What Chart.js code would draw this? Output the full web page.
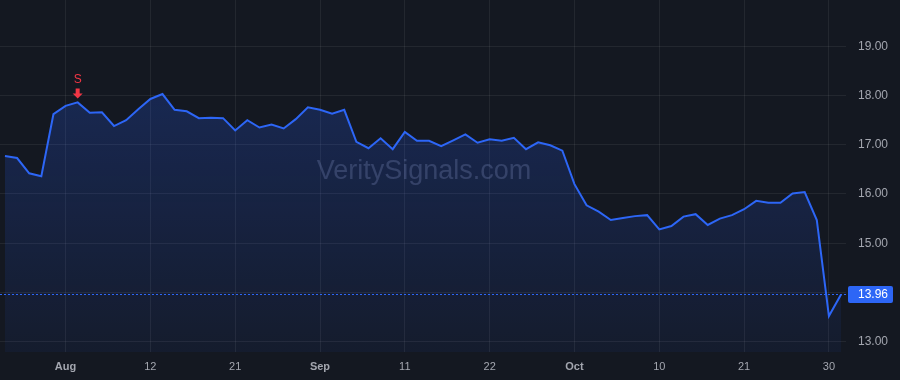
<!DOCTYPE html>
<html>
<head>
<meta charset="utf-8">
<script src="https://cdn.jsdelivr.net/npm/chart.js@4.4.1/dist/chart.umd.min.js"></script>
<style>
  html, body { margin: 0; padding: 0; background: #141821; }
  #wrap { width: 900px; height: 380px; }
</style>
</head>
<body>
<div id="wrap"><canvas id="priceChart" width="900" height="380"></canvas></div>
<script>
"use strict";

// ---------------- DATA ----------------
const closes = [
  16.77, 16.73, 16.42, 16.36, 17.62, 17.79, 17.86, 17.65, 17.66, 17.38,
  17.50, 17.72, 17.93, 18.03, 17.71, 17.68, 17.54, 17.55, 17.54, 17.29,
  17.50, 17.35, 17.41, 17.33, 17.52, 17.76, 17.71, 17.63, 17.71, 17.06,
  16.93, 17.13, 16.91, 17.26, 17.08, 17.08, 16.97, 17.09, 17.21, 17.04,
  17.11, 17.08, 17.14, 16.91, 17.05, 16.99, 16.88, 16.20, 15.77, 15.64,
  15.47, 15.51, 15.55, 15.57, 15.28, 15.35, 15.54, 15.59, 15.37, 15.50,
  15.57, 15.69, 15.86, 15.82, 15.82, 16.01, 16.04, 15.47, 13.52, 13.96,
];
const xTickIdx = [5, 12, 19, 26, 33, 40, 47, 54, 61, 68];
const xTickLabels = ["Aug", "12", "21", "Sep", "11", "22", "Oct", "10", "21", "30"];
const monthLabels = ["Aug", "Sep", "Oct"];
const yTicks = [13, 14, 15, 16, 17, 18, 19];
const hiddenYTick = 14; // covered by the last-price tag
const signalIdx = 6;
const signalText = "S";
const watermark = "VeritySignals.com";

// ---------------- STYLE ----------------
const BLUE = "#2d66f6";
const RED = "#f23645";
const TEXT = "#a3a6af";
const GRID = "rgba(255,255,255,0.065)";
const FONT = "'Liberation Sans', Arial, sans-serif";

// ---------------- OVERLAYS ----------------
const overlays = {
  id: "overlays",
  beforeDatasetsDraw(chart) {
    const { ctx, chartArea } = chart;
    ctx.save();
    ctx.font = "27px " + FONT;
    ctx.fillStyle = "rgba(150,160,190,0.27)";
    ctx.textAlign = "center";
    ctx.textBaseline = "middle";
    ctx.fillText(watermark, 424, 172);
    ctx.restore();
  },
  afterDatasetsDraw(chart) {
    const { ctx, chartArea, scales } = chart;
    const last = closes[closes.length - 1];
    const y = Math.round(scales.y.getPixelForValue(last)) + 0.5;

    ctx.save();
    // last price line
    ctx.strokeStyle = BLUE;
    ctx.lineWidth = 1;
    ctx.setLineDash([2, 2]);
    ctx.beginPath();
    ctx.moveTo(chartArea.left, y);
    ctx.lineTo(chartArea.right, y);
    ctx.stroke();
    ctx.setLineDash([]);

    // last price tag
    const tx = chartArea.right + 2;
    ctx.fillStyle = BLUE;
    ctx.beginPath();
    ctx.roundRect(tx, y - 8.5, 45, 17, 2);
    ctx.fill();
    ctx.fillStyle = "#ffffff";
    ctx.font = "12px " + FONT;
    ctx.textAlign = "left";
    ctx.textBaseline = "middle";
    ctx.fillText(last.toFixed(2), tx + 10, y + 0.5);

    // sell signal marker
    const px = scales.x.getPixelForValue(signalIdx);
    const py = scales.y.getPixelForValue(closes[signalIdx]);
    ctx.fillStyle = RED;
    ctx.font = "12px " + FONT;
    ctx.textAlign = "center";
    ctx.fillText(signalText, px, py - 23);
    // arrow
    const top = py - 14, tip = py - 4;
    ctx.beginPath();
    ctx.moveTo(px - 2, top);
    ctx.lineTo(px + 2, top);
    ctx.lineTo(px + 2, tip - 5);
    ctx.lineTo(px + 5, tip - 5);
    ctx.lineTo(px, tip);
    ctx.lineTo(px - 5, tip - 5);
    ctx.lineTo(px - 2, tip - 5);
    ctx.closePath();
    ctx.fill();
    ctx.restore();
  },
};

// ---------------- CHART ----------------
const ctx = document.getElementById("priceChart").getContext("2d");

new Chart(ctx, {
  type: "line",
  data: {
    datasets: [
      {
        data: closes.map((v, i) => ({ x: i, y: v })),
        borderColor: BLUE,
        borderWidth: 2,
        pointRadius: 0,
        tension: 0,
        fill: "start",
        backgroundColor: (c) => {
          const area = c.chart.chartArea;
          if (!area) return "rgba(41,98,255,0.15)";
          const g = c.chart.ctx.createLinearGradient(0, area.top + 90, 0, area.bottom);
          g.addColorStop(0, "rgba(41,98,255,0.22)");
          g.addColorStop(1, "rgba(41,98,255,0.06)");
          return g;
        },
      },
    ],
  },
  options: {
    responsive: false,
    animation: false,
    layout: { padding: 0 },
    plugins: {
      legend: { display: false },
      tooltip: { enabled: false },
    },
    scales: {
      x: {
        type: "linear",
        min: -0.41,
        max: 69.41,
        afterBuildTicks: (s) => {
          s.ticks = xTickIdx.map((v) => ({ value: v }));
        },
        afterFit: (s) => {
          s.height = 28;
          s.paddingLeft = 0;
          s.paddingRight = 0;
        },
        grid: { color: GRID, drawTicks: false },
        border: { display: false },
        ticks: {
          autoSkip: false,
          maxRotation: 0,
          padding: 8,
          color: TEXT,
          font: (c) => ({
            family: FONT,
            size: 11,
            weight: c.tick && monthLabels.includes(xTickLabels[xTickIdx.indexOf(c.tick.value)]) ? "bold" : "normal",
          }),
          callback: (v) => xTickLabels[xTickIdx.indexOf(v)] ?? "",
        },
      },
      y: {
        position: "right",
        min: 12.79,
        max: 19.94,
        afterBuildTicks: (s) => {
          s.ticks = yTicks.map((v) => ({ value: v }));
        },
        afterFit: (s) => {
          s.width = 54;
          s.paddingTop = 0;
          s.paddingBottom = 0;
        },
        grid: { color: GRID, drawTicks: false },
        border: { display: false },
        ticks: {
          padding: 12,
          color: TEXT,
          font: { family: FONT, size: 12 },
          callback: (v) => (v === hiddenYTick ? "" : v.toFixed(2)),
        },
      },
    },
  },
  plugins: [overlays],
});
</script>
</body>
</html>
